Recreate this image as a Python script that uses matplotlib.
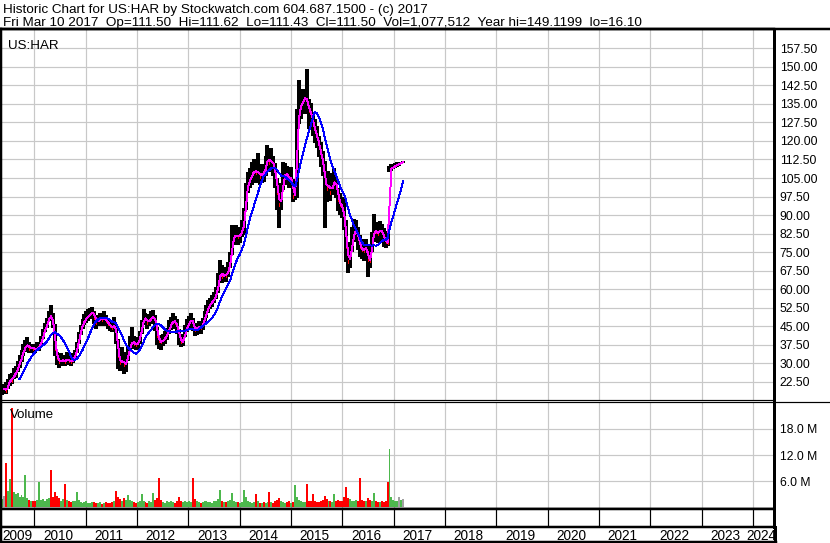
import matplotlib
matplotlib.use('Agg')
import matplotlib.pyplot as plt
import matplotlib.dates as mdates
import matplotlib.transforms as mtransforms
import numpy as np
import pandas as pd

plt.rcParams['font.family'] = ['Liberation Sans', 'DejaVu Sans']

# biweekly bars for US:HAR (first bar 2009-05-15)
start_date = '2009-05-15'

close_2009 = [19.5, 19.8, 19.0, 21.0, 24.0, 23.0, 25.5, 26.0, 28.5, 30.5, 33.0, 35.5, 37.0, 37.5, 36.0, 36.5, 36.0]
close_2010 = [35.5, 36.5, 37.0, 39.0, 42.0, 44.5, 46.0, 49.5, 48.5, 46.0, 36.0, 32.0, 30.5, 31.0, 31.5, 30.5, 32.0, 31.0, 30.5, 31.5,
              33.0, 36.0, 40.0, 43.5, 46.0, 47.5]
close_2011 = [48.5, 49.5, 50.0, 51.0, 48.5, 46.5, 47.5, 48.0, 47.5, 48.5, 47.0, 46.0, 45.0, 44.5, 45.5, 42.5, 33.0, 30.0, 31.5, 29.5,
              30.0, 33.5, 37.0, 39.0, 38.0, 37.5]
close_2012 = [38.0, 40.5, 44.5, 48.5, 48.0, 46.5, 47.5, 48.5, 49.0, 46.5, 41.0, 39.0, 38.5, 39.5, 40.5, 42.0, 44.5, 46.0, 47.5, 46.5,
              45.0, 41.0, 38.5, 39.0, 42.5, 45.0]
close_2013 = [46.0, 48.5, 46.0, 43.5, 44.0, 45.0, 44.5, 46.0, 48.5, 51.0, 53.0, 54.5, 55.0, 56.5, 58.5, 63.0, 67.5, 65.0, 66.0, 65.5,
              68.0, 71.0, 80.0, 81.5, 82.0, 81.0]
close_2014 = [82.0, 84.0, 86.5, 99.0, 103.0, 104.5, 106.0, 108.5, 107.0, 108.0, 105.5, 107.0, 106.5, 110.0, 113.5, 111.0, 112.5, 109.5,
              106.0, 99.0, 94.0, 97.5, 105.5, 107.0, 106.0, 104.5, 105.5]
close_2015 = [97.5, 99.0, 125.0, 133.0, 134.5, 136.5, 138.0, 136.0, 132.0, 131.0, 127.0, 124.0, 121.5, 118.0, 114.5, 111.0, 104.0,
              100.5, 103.0, 99.0, 102.5, 104.0, 101.0, 96.0, 94.0, 93.0]
close_2016 = [88.0, 77.0, 71.0, 73.5, 80.0, 83.5, 84.0, 80.5, 77.0, 76.0, 75.5, 77.5, 72.0, 71.5, 79.0, 84.5, 83.0, 82.5, 84.5, 83.0,
              81.0, 79.0, 78.5, 108.5, 109.0, 109.5, 110.0, 110.5, 110.8, 111.2, 111.5]

high_2009 = [21.5, 21.0, 22.5, 23.5, 25.5, 26.0, 28.0, 29.0, 31.0, 33.5, 35.5, 37.8, 39.5, 40.8, 38.5, 38.0, 37.8]
high_2010 = [37.5, 38.5, 38.5, 41.0, 44.0, 46.5, 48.5, 51.0, 53.6, 50.5, 46.0, 34.5, 33.0, 34.0, 33.5, 33.5, 34.5, 34.0, 33.0, 34.0,
             35.5, 38.5, 42.5, 45.5, 48.0, 50.0]
high_2011 = [51.0, 52.0, 52.5, 52.8, 51.0, 49.0, 49.5, 50.5, 50.5, 51.0, 49.5, 48.5, 47.5, 47.0, 48.8, 46.0, 40.0, 34.0, 36.6, 33.0,
             34.5, 37.5, 41.0, 44.8, 41.0, 40.5]
high_2012 = [40.5, 43.0, 47.5, 51.8, 50.5, 49.0, 50.0, 51.0, 51.5, 49.5, 44.8, 41.5, 41.0, 42.0, 43.0, 44.5, 47.5, 48.8, 50.4, 49.0,
             48.0, 44.0, 41.0, 42.0, 45.5, 48.0]
high_2013 = [49.0, 50.5, 48.5, 46.0, 46.5, 47.0, 46.5, 48.5, 51.0, 53.5, 55.6, 56.5, 57.5, 59.0, 61.0, 66.5, 71.8, 69.7, 69.0, 68.5,
             71.0, 75.0, 86.0, 85.0, 86.0, 84.5]
high_2014 = [85.0, 88.0, 92.7, 103.0, 107.5, 109.0, 111.6, 112.5, 112.0, 115.0, 109.0, 110.5, 110.0, 114.0, 118.3, 117.0, 117.0, 114.0,
             111.0, 105.0, 99.0, 103.0, 111.6, 111.0, 110.0, 108.5, 109.5]
high_2015 = [104.8, 102.0, 133.0, 144.6, 140.0, 141.0, 140.5, 149.1, 137.0, 135.5, 131.0, 129.0, 126.0, 122.0, 119.6, 116.0, 112.0,
             106.0, 108.0, 104.5, 107.0, 109.0, 106.0, 101.0, 99.0, 97.5]
high_2016 = [96.7, 88.0, 78.0, 79.0, 85.0, 88.6, 88.0, 85.0, 81.9, 80.5, 79.2, 80.5, 78.0, 75.5, 83.0, 90.6, 87.3, 86.5, 87.5, 86.5,
             84.6, 82.5, 83.5, 110.0, 110.5, 110.5, 111.0, 111.3, 111.5, 111.6, 111.7]

low_2009 = [17.0, 17.5, 17.5, 19.5, 21.0, 21.5, 23.5, 24.0, 26.5, 28.0, 30.5, 33.0, 34.5, 35.0, 34.0, 34.8, 34.0]
low_2010 = [34.0, 35.0, 35.0, 37.0, 40.0, 42.5, 44.5, 47.0, 47.5, 44.5, 33.0, 29.5, 28.0, 29.0, 29.0, 29.0, 30.0, 29.5, 29.0, 30.0,
            31.5, 34.0, 38.0, 41.5, 44.0, 45.5]
low_2011 = [46.5, 47.0, 48.0, 48.5, 46.0, 44.0, 45.0, 45.5, 45.0, 46.0, 45.0, 44.0, 43.0, 42.7, 43.5, 38.0, 27.8, 27.0, 28.5, 25.5,
            26.5, 31.0, 35.0, 36.5, 36.0, 35.5]
low_2012 = [36.0, 38.0, 42.0, 45.5, 45.5, 44.0, 45.0, 46.0, 46.5, 43.0, 37.5, 36.0, 35.3, 37.0, 38.0, 39.5, 42.0, 43.5, 45.0, 44.0,
            42.0, 37.5, 36.6, 37.0, 40.5, 42.5]
low_2013 = [44.0, 45.5, 43.0, 41.0, 41.5, 42.5, 42.0, 43.5, 46.0, 48.5, 50.5, 52.0, 53.0, 54.5, 56.0, 58.5, 63.0, 62.5, 63.0, 63.0,
            65.0, 68.5, 73.8, 78.0, 78.5, 77.8]
low_2014 = [78.5, 81.0, 82.0, 92.0, 99.0, 100.8, 102.0, 104.0, 103.0, 104.0, 102.0, 103.0, 103.5, 106.0, 108.0, 107.5, 108.0, 106.0,
            101.0, 92.0, 84.6, 92.0, 100.0, 103.0, 102.0, 101.0, 102.0]
low_2015 = [95.4, 96.0, 97.0, 127.0, 129.0, 131.0, 131.0, 133.0, 125.0, 125.5, 122.0, 119.0, 117.0, 113.5, 109.5, 106.0, 84.6,
            95.4, 98.0, 95.5, 98.0, 99.5, 97.0, 91.5, 90.0, 89.0]
low_2016 = [84.0, 71.0, 66.4, 68.5, 75.0, 79.0, 80.0, 76.0, 73.0, 72.4, 71.5, 73.0, 65.0, 68.4, 75.0, 79.5, 79.0, 78.5, 80.0, 79.5,
            77.2, 76.5, 77.5, 107.5, 108.0, 108.5, 109.0, 109.5, 110.0, 110.5, 111.0]

# volume, millions of shares
vol_2009 = [1.8, 2.6, 10.2, 3.8, 6.5, 22.8, 3.5, 2.9, 3.2, 2.4, 2.8, 2.2, 7.3, 2.0, 1.6, 1.5, 1.4]
vol_2010 = [1.3, 1.7, 5.8, 1.6, 1.9, 1.5, 1.8, 2.1, 8.6, 2.3, 3.5, 2.6, 2.0, 1.5, 1.8, 5.4, 1.6, 1.3, 1.2, 1.4,
            1.5, 3.5, 1.6, 1.2, 1.0, 1.1]
vol_2011 = [1.3, 0.9, 1.0, 1.2, 1.1, 0.9, 1.0, 1.2, 0.8, 1.0, 1.1, 0.9, 1.0, 1.2, 1.5, 3.6, 2.4, 1.9, 1.5, 2.1,
            1.7, 2.7, 1.6, 1.3, 1.1, 1.0]
vol_2012 = [1.2, 1.4, 3.1, 1.5, 1.2, 1.0, 1.3, 1.1, 3.3, 1.7, 2.0, 6.8, 1.6, 1.2, 1.0, 1.3, 1.1, 1.4, 1.2, 1.0,
            1.3, 2.2, 1.5, 1.2, 1.4, 1.1]
vol_2013 = [1.3, 1.2, 6.8, 1.8, 1.3, 1.1, 1.0, 1.2, 1.4, 1.3, 1.1, 1.2, 1.0, 1.3, 1.5, 1.8, 4.0, 1.4, 1.2, 1.1,
            1.3, 1.6, 3.2, 1.5, 1.2, 1.1]
vol_2014 = [1.0, 1.2, 4.0, 2.2, 1.4, 1.1, 1.0, 1.2, 3.1, 1.3, 1.0, 0.9, 1.1, 1.0, 1.2, 3.4, 1.1, 1.0, 1.3, 1.6,
            2.0, 1.4, 1.2, 1.0, 1.1, 1.3, 1.0]
vol_2015 = [1.2, 5.0, 2.4, 1.6, 1.3, 1.1, 1.2, 5.2, 1.5, 1.3, 2.9, 1.4, 1.2, 1.1, 1.3, 1.6, 2.5, 1.8, 1.4, 1.3,
            1.2, 2.9, 1.4, 1.6, 1.3, 1.5]
vol_2016 = [2.2, 4.7, 2.0, 1.8, 1.5, 1.3, 1.6, 1.4, 6.8, 1.7, 1.4, 1.3, 2.0, 1.6, 1.3, 3.2, 1.4, 1.2, 1.1, 1.3,
            1.2, 1.4, 5.8, 13.5, 2.3, 1.6, 1.4, 1.5, 2.2, 1.6, 1.8]

price_ticks = [22.5, 30, 37.5, 45, 52.5, 60, 67.5, 75, 82.5, 90, 97.5, 105, 112.5, 120, 127.5, 135, 142.5, 150, 157.5]
vol_ticks = [6, 12, 18]
vol_tick_labels = ['6.0 M', '12.0 M', '18.0 M']
years = list(range(2009, 2025))

header1 = 'Historic Chart for US:HAR by Stockwatch.com 604.687.1500 - (c) 2017'
header2 = ('Fri Mar 10 2017  Op=111.50  Hi=111.62  Lo=111.43  Cl=111.50  '
           'Vol=1,077,512  Year hi=149.1199  lo=16.10')

closes = close_2009 + close_2010 + close_2011 + close_2012 + close_2013 + close_2014 + close_2015 + close_2016
highs = high_2009 + high_2010 + high_2011 + high_2012 + high_2013 + high_2014 + high_2015 + high_2016
lows = low_2009 + low_2010 + low_2011 + low_2012 + low_2013 + low_2014 + low_2015 + low_2016
volumes = vol_2009 + vol_2010 + vol_2011 + vol_2012 + vol_2013 + vol_2014 + vol_2015 + vol_2016

dates = pd.date_range(start_date, periods=len(closes), freq='14D')
df = pd.DataFrame({'high': highs, 'low': lows, 'close': closes, 'volume': volumes}, index=dates)
df['ma_fast'] = df['close'].rolling(2).mean()
df['ma_slow'] = df['close'].rolling(10).mean()
chg = df['close'].diff().fillna(1.0)
xd = mdates.date2num(df.index.to_pydatetime())

# pixel layout of the original (830x543)
W, H = 830, 543
def box(x0, y0, x1, y1):
    return [x0 / W, 1 - y1 / H, (x1 - x0) / W, (y1 - y0) / H]

d2010 = mdates.date2num(pd.Timestamp('2010-01-01').to_pydatetime())
px_per_day = 51.34 / 365.25
x_left = d2010 - (34.3 - 1) / px_per_day
x_right = d2010 + (774 - 34.3) / px_per_day
bounds = [mdates.date2num(pd.Timestamp(f'{y}-01-01').to_pydatetime()) for y in years[1:]]

GRID = '#c8c8c8'
PX = 0.72  # one pixel in points

fig = plt.figure(figsize=(8.3, 5.43), dpi=100)

ax = fig.add_axes(box(1, 29, 774, 400))
axv = fig.add_axes(box(1, 402, 774, 509))
axs = fig.add_axes(box(1, 509, 774, 527))

# price panel
ax.vlines(xd, df['low'], df['high'], color='black', lw=1.5, zorder=2, antialiased=False)
down = (chg < 0).values
ax.hlines(df['close'][down], xd[down], xd[down] + 7, color='red', lw=1.5, zorder=3, antialiased=False)
ax.plot(xd, df['ma_fast'], color='#ff00ff', lw=0.7, zorder=4, antialiased=False)
ax.plot(xd, df['ma_slow'], color='#0000ff', lw=0.7, zorder=5, antialiased=False)
ax.set_ylim(15.17, 165.3)
ax.set_yticks(price_ticks)
ax.set_yticklabels([f'{t:.2f}' for t in price_ticks])
ax.text(7 / 773, 1 - (49 - 29) / 371, 'US:HAR', transform=ax.transAxes, fontsize=9.6, va='baseline', ha='left')

# volume panel
vcol = np.where(np.abs(chg.values) <= 0.4, '#a0a0a0', np.where(chg.values < 0, '#ff0000', '#4db84d'))
axv.bar(xd, df['volume'], width=14, color=vcol, linewidth=0, zorder=2, antialiased=False)
axv.set_ylim(-0.46, 24.23)
axv.set_yticks(vol_ticks)
axv.set_yticklabels(vol_tick_labels)
axv.text(9 / 773, 1 - (418 - 402) / 107, 'Volume', transform=axv.transAxes, fontsize=9.5, va='baseline', ha='left')

for a in (ax, axv):
    a.set_xlim(x_left, x_right)
    a.set_xticks(bounds)
    a.set_xticklabels([])
    a.grid(True, color=GRID, lw=PX * 1.2)
    a.set_axisbelow(True)
    a.tick_params(axis='x', length=0)
    a.tick_params(axis='y', length=0, pad=4.2, labelright=True, labelleft=False, labelsize=8.7)
    for s in a.spines.values():
        s.set_color('black')
    a.spines['left'].set_linewidth(PX * 2.5)
    a.spines['right'].set_linewidth(PX * 3)
    a.spines['top'].set_linewidth(PX * 1.2)
    a.spines['bottom'].set_linewidth(PX * 1.2)
ax.spines['top'].set_linewidth(PX * 2.5)
axv.spines['bottom'].set_linewidth(PX * 2.5)

# empty strip with year dividers
axs.set_xlim(x_left, x_right)
axs.set_ylim(0, 1)
axs.vlines(bounds, 0, 1, color='black', lw=PX * 1.2)
axs.set_xticks([])
axs.set_yticks([])
for s in axs.spines.values():
    s.set_color('black')
axs.spines['left'].set_linewidth(PX * 2.5)
axs.spines['right'].set_linewidth(PX * 3)
axs.spines['top'].set_linewidth(PX * 2.5)
axs.spines['bottom'].set_linewidth(PX * 2.5)

# frame lines outside the axes
def hline(y, x0, x1, lw):
    fig.add_artist(plt.Line2D([x0 / W, x1 / W], [1 - y / H, 1 - y / H], color='black', lw=lw))
def vline(x, y0, y1, lw):
    fig.add_artist(plt.Line2D([x / W, x / W], [1 - y0 / H, 1 - y1 / H], color='black', lw=lw))

hline(29, 0, 830, PX * 2.5)
hline(401.5, 774, 830, PX * 1.2)
hline(542, 0, 776, PX * 2.5)
vline(774.5, 527, 543, PX * 3)
vline(1, 527, 543, PX * 2.5)

# header
fig.text(3 / W, 1 - 12.5 / H, header1, fontsize=9.7, va='baseline', ha='left')
fig.text(3 / W, 1 - 26.3 / H, header2, fontsize=9.7, va='baseline', ha='left')

# year labels
trans = mtransforms.blended_transform_factory(axs.transData, fig.transFigure)
ylab = 1 - 540.5 / H
for i, yr in enumerate(years):
    if yr == years[0]:
        fig.text(2.5 / W, ylab, str(yr), fontsize=9.8, va='baseline', ha='left')
    elif yr == years[-1]:
        fig.text(776 / W, ylab, str(yr), fontsize=9.8, va='baseline', ha='right')
    else:
        xm = (bounds[i - 1] + bounds[i]) / 2 - 2 / px_per_day
        fig.text(xm, ylab, str(yr), fontsize=9.8, va='baseline', ha='center', transform=trans)

fig.savefig('out.png', dpi=100)
